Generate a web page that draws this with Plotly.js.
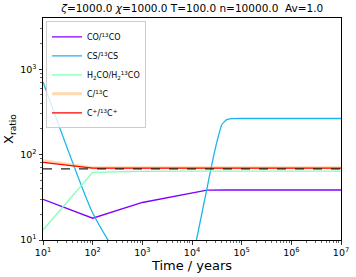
<!DOCTYPE html>
<html><head><meta charset="utf-8">
<script src="https://cdn.plot.ly/plotly-3.0.1.min.js"></script>
<style>html,body{margin:0;padding:0;background:#fff}#chart{width:356px;height:277px}</style>
</head><body><div id="chart"></div>
<script>
// Time (years) and ratios
const timeCO   = [10, 100, 1000, 3000, 5600, 10000, 20000, 50000, 1e7];
const ratioCO  = [30, 18, 27.5, 31, 33.6, 36, 38.3, 38.5, 38.5];

const timeCS   = [10, 100, 1000, 5000, 10000, 12600, 15800, 20000, 25000, 31600, 40000, 50000, 63000, 100000, 1e7];
const ratioCS  = [710, 20.7, 2.6, 3.5, 5.6, 10.7, 20.5, 40, 76, 140, 225, 257, 264, 265, 265];

const timeH2CO  = [10, 100, 1000, 1e4, 1e7];
const ratioH2CO = [13.1, 62, 63.5, 64, 64];

const timeC   = [10, 100, 1e7];
const ratioC  = [85, 70, 70];

const timeCp  = [10, 100, 1e7];
const ratioCp = [81, 69.5, 69.5];

const refTime  = [10, 1e7];
const refRatio = [68, 68];

const names = ['CO/<sup>13</sup>CO', 'CS/<sup>13</sup>CS', 'H<sub>2</sub>CO/H<sub>2</sub><sup>13</sup>CO', 'C/<sup>13</sup>C', 'C<sup>+</sup>/<sup>13</sup>C<sup>+</sup>'];
const colors = ['#8000ff', '#1cb4ea', '#80ffb4', '#ffb462', '#ff0000'];

const xTickVals = [10, 100, 1000, 1e4, 1e5, 1e6, 1e7];
const xTickText = ['10<sup>1</sup>','10<sup>2</sup>','10<sup>3</sup>','10<sup>4</sup>','10<sup>5</sup>','10<sup>6</sup>','10<sup>7</sup>'];
const yTickVals = [10, 100, 1000];
const yTickText = ['10<sup>1</sup>','10<sup>2</sup>','10<sup>3</sup>'];

function minorVals(lo, hi) {
  const out = [];
  for (let e = lo; e < hi; e++) for (let k = 2; k <= 9; k++) out.push(k * Math.pow(10, e));
  return out;
}

const traces = [
  {x: timeCO, y: ratioCO, name: names[0], mode: 'lines', line: {color: colors[0], width: 1.3}},
  {x: timeCS, y: ratioCS, name: names[1], mode: 'lines', line: {color: colors[1], width: 1.3, shape: 'spline', smoothing: 0.4}},
  {x: timeH2CO, y: ratioH2CO, name: names[2], mode: 'lines', line: {color: colors[2], width: 1.3}},
  {x: timeC, y: ratioC, name: names[3], mode: 'lines', opacity: 0.5, line: {color: colors[3], width: 3}},
  {x: timeCp, y: ratioCp, name: names[4], mode: 'lines', line: {color: colors[4], width: 1.3}},
  {x: refTime, y: refRatio, mode: 'lines', showlegend: false, line: {color: '#222', width: 1.3, dash: 'dash'}}
];

const font = {family: 'DejaVu Sans, sans-serif', color: '#000'};
const layout = {
  width: 356, height: 277,
  margin: {l: 43, r: 15, t: 18, b: 37},
  paper_bgcolor: '#fff', plot_bgcolor: '#fff',
  font: Object.assign({size: 10}, font),
  title: {text: '<i>ζ</i>=1000.0 <i>χ</i>=1000.0 T=100.0 n=10000.0  Av=1.0', x: 0.54, xanchor: 'center', y: 0.985, yanchor: 'top', font: Object.assign({size: 10.5}, font)},
  showlegend: true,
  legend: {x: 0.01, y: 0.985, xanchor: 'left', yanchor: 'top', bgcolor: 'rgba(255,255,255,0.8)', bordercolor: '#ccc', borderwidth: 1, font: Object.assign({size: 8}, font), tracegroupgap: 0, itemwidth: 30},
  xaxis: {
    type: 'log', range: [1, 7], showgrid: false, zeroline: false,
    showline: true, linecolor: '#000', linewidth: 1, mirror: true,
    ticks: 'outside', ticklen: 3.5, tickwidth: 0.8, tickcolor: '#000',
    tickmode: 'array', tickvals: xTickVals, ticktext: xTickText,
    tickfont: Object.assign({size: 9.5}, font),
    minor: {tickmode: 'array', tickvals: minorVals(1, 7), ticks: 'outside', ticklen: 2, tickwidth: 0.6, tickcolor: '#000', showgrid: false},
    title: {text: 'Time / years', font: Object.assign({size: 13}, font), standoff: 2}
  },
  yaxis: {
    type: 'log', range: [1, 3.6], showgrid: false, zeroline: false,
    showline: true, linecolor: '#000', linewidth: 1, mirror: true,
    ticks: 'outside', ticklen: 3.5, tickwidth: 0.8, tickcolor: '#000',
    tickmode: 'array', tickvals: yTickVals, ticktext: yTickText,
    tickfont: Object.assign({size: 9.5}, font),
    minor: {tickmode: 'array', tickvals: minorVals(1, 4).filter(v => v < 4000), ticks: 'outside', ticklen: 2, tickwidth: 0.6, tickcolor: '#000', showgrid: false},
    title: {text: 'X<sub>ratio</sub>', font: Object.assign({size: 13}, font), standoff: 3}
  }
};

Plotly.newPlot('chart', traces, layout, {staticPlot: true, displayModeBar: false});
</script>
</body></html>
